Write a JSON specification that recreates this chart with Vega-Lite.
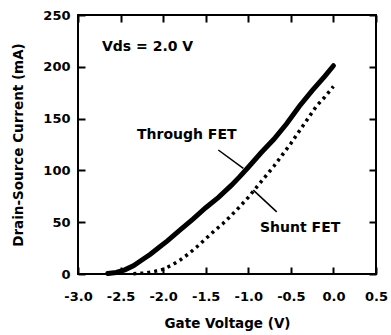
{
  "$schema": "https://vega.github.io/schema/vega-lite/v6.json",
  "width": 298,
  "height": 259,
  "autosize": "none",
  "padding": {"left": 78, "top": 15, "right": 15, "bottom": 61},
  "background": "white",
  "config": {
    "view": {"stroke": "black", "strokeWidth": 2},
    "axis": {
      "grid": false,
      "domain": false,
      "offset": -7,
      "tickColor": "black",
      "tickWidth": 2,
      "tickSize": 7,
      "labelFont": "DejaVu Sans",
      "labelFontWeight": "bold",
      "labelFontSize": 13,
      "labelColor": "black",
      "labelOverlap": false,
      "labelFlush": false,
      "titleFont": "DejaVu Sans",
      "titleFontWeight": "bold",
      "titleFontSize": 13.5,
      "titleColor": "black"
    }
  },
  "datasets": {
    "curves": [
      {"series": "Through FET", "v": -2.65, "i": 0.5},
      {"series": "Through FET", "v": -2.55, "i": 1.5},
      {"series": "Through FET", "v": -2.45, "i": 4},
      {"series": "Through FET", "v": -2.35, "i": 8},
      {"series": "Through FET", "v": -2.25, "i": 13.5},
      {"series": "Through FET", "v": -2.15, "i": 19},
      {"series": "Through FET", "v": -2.05, "i": 25.5},
      {"series": "Through FET", "v": -1.95, "i": 32},
      {"series": "Through FET", "v": -1.8, "i": 42.5},
      {"series": "Through FET", "v": -1.65, "i": 53},
      {"series": "Through FET", "v": -1.5, "i": 64},
      {"series": "Through FET", "v": -1.35, "i": 74},
      {"series": "Through FET", "v": -1.2, "i": 85.5},
      {"series": "Through FET", "v": -1.1, "i": 94},
      {"series": "Through FET", "v": -1.0, "i": 103},
      {"series": "Through FET", "v": -0.85, "i": 117},
      {"series": "Through FET", "v": -0.7, "i": 130},
      {"series": "Through FET", "v": -0.55, "i": 145},
      {"series": "Through FET", "v": -0.4, "i": 162},
      {"series": "Through FET", "v": -0.25, "i": 177},
      {"series": "Through FET", "v": -0.1, "i": 191},
      {"series": "Through FET", "v": 0.0, "i": 201},
      {"series": "Shunt FET", "v": -2.35, "i": 0.3},
      {"series": "Shunt FET", "v": -2.2, "i": 1},
      {"series": "Shunt FET", "v": -2.1, "i": 2.5},
      {"series": "Shunt FET", "v": -2.0, "i": 4.5},
      {"series": "Shunt FET", "v": -1.9, "i": 8.5},
      {"series": "Shunt FET", "v": -1.8, "i": 13.5},
      {"series": "Shunt FET", "v": -1.7, "i": 19.5},
      {"series": "Shunt FET", "v": -1.6, "i": 26.5},
      {"series": "Shunt FET", "v": -1.5, "i": 34},
      {"series": "Shunt FET", "v": -1.4, "i": 41.5},
      {"series": "Shunt FET", "v": -1.3, "i": 48.5},
      {"series": "Shunt FET", "v": -1.2, "i": 56.5},
      {"series": "Shunt FET", "v": -1.1, "i": 65},
      {"series": "Shunt FET", "v": -1.0, "i": 74},
      {"series": "Shunt FET", "v": -0.9, "i": 84},
      {"series": "Shunt FET", "v": -0.8, "i": 94},
      {"series": "Shunt FET", "v": -0.7, "i": 104},
      {"series": "Shunt FET", "v": -0.6, "i": 115},
      {"series": "Shunt FET", "v": -0.5, "i": 126},
      {"series": "Shunt FET", "v": -0.4, "i": 138},
      {"series": "Shunt FET", "v": -0.3, "i": 150},
      {"series": "Shunt FET", "v": -0.2, "i": 162},
      {"series": "Shunt FET", "v": -0.1, "i": 171},
      {"series": "Shunt FET", "v": 0.0, "i": 181}
    ],
    "leaders": [
      {"v1": -1.352, "i1": 119.7, "v2": -1.058, "i2": 102},
      {"v1": -0.941, "i1": 81, "v2": -0.666, "i2": 60}
    ],
    "notes": [
      {"label": "Vds = 2.0 V", "v": -2.718, "i": 219},
      {"label": "Through FET", "v": -2.307, "i": 134},
      {"label": "Shunt FET", "v": -0.862, "i": 44}
    ]
  },
  "layer": [
    {
      "data": {"name": "curves"},
      "transform": [{"filter": "datum.series === 'Through FET'"}],
      "mark": {"type": "line", "color": "black", "strokeWidth": 5, "strokeCap": "round"},
      "encoding": {
        "x": {"field": "v", "type": "quantitative", "scale": {"domain": [-3, 0.5], "nice": false},
          "axis": {"orient": "bottom", "values": [-3, -2.5, -2, -1.5, -1, -0.5, 0, 0.5], "title": "Gate Voltage (V)",
            "labelExpr": "datum.value < 0 ? '-' + format(-datum.value, '.1f') : format(datum.value, '.1f')",
            "labelFontWeight": "bold", "labelFlush": false, "labelPadding": 16, "titlePadding": 13}},
        "y": {"field": "i", "type": "quantitative", "scale": {"domain": [0, 250], "nice": false},
          "axis": {"orient": "left", "values": [0, 50, 100, 150, 200, 250], "title": "Drain-Source Current (mA)",
            "labelFontWeight": "bold", "labelFlush": false, "labelPadding": 8, "titlePadding": 17}}
      }
    },
    {
      "data": {"name": "curves"},
      "transform": [{"filter": "datum.series === 'Shunt FET'"}],
      "mark": {"type": "line", "color": "black", "strokeWidth": 3.5, "strokeDash": [3, 4]},
      "encoding": {
        "x": {"field": "v", "type": "quantitative", "axis": {"orient": "top", "values": [-3, -2.5, -2, -1.5, -1, -0.5, 0, 0.5], "labels": false, "title": null}},
        "y": {"field": "i", "type": "quantitative", "axis": {"orient": "right", "values": [0, 50, 100, 150, 200, 250], "labels": false, "title": null}}
      }
    },
    {
      "data": {"name": "leaders"},
      "mark": {"type": "rule", "color": "black", "strokeWidth": 1.5},
      "encoding": {
        "x": {"field": "v1", "type": "quantitative", "axis": null},
        "y": {"field": "i1", "type": "quantitative", "axis": null},
        "x2": {"field": "v2"},
        "y2": {"field": "i2"}
      }
    },
    {
      "data": {"name": "notes"},
      "mark": {"type": "text", "font": "DejaVu Sans", "fontWeight": "bold", "fontSize": 14, "color": "black", "align": "left", "baseline": "middle"},
      "encoding": {
        "x": {"field": "v", "type": "quantitative", "axis": null},
        "y": {"field": "i", "type": "quantitative", "axis": null},
        "text": {"field": "label"}
      }
    }
  ],
  "resolve": {"axis": {"x": "independent", "y": "independent"}}
}
